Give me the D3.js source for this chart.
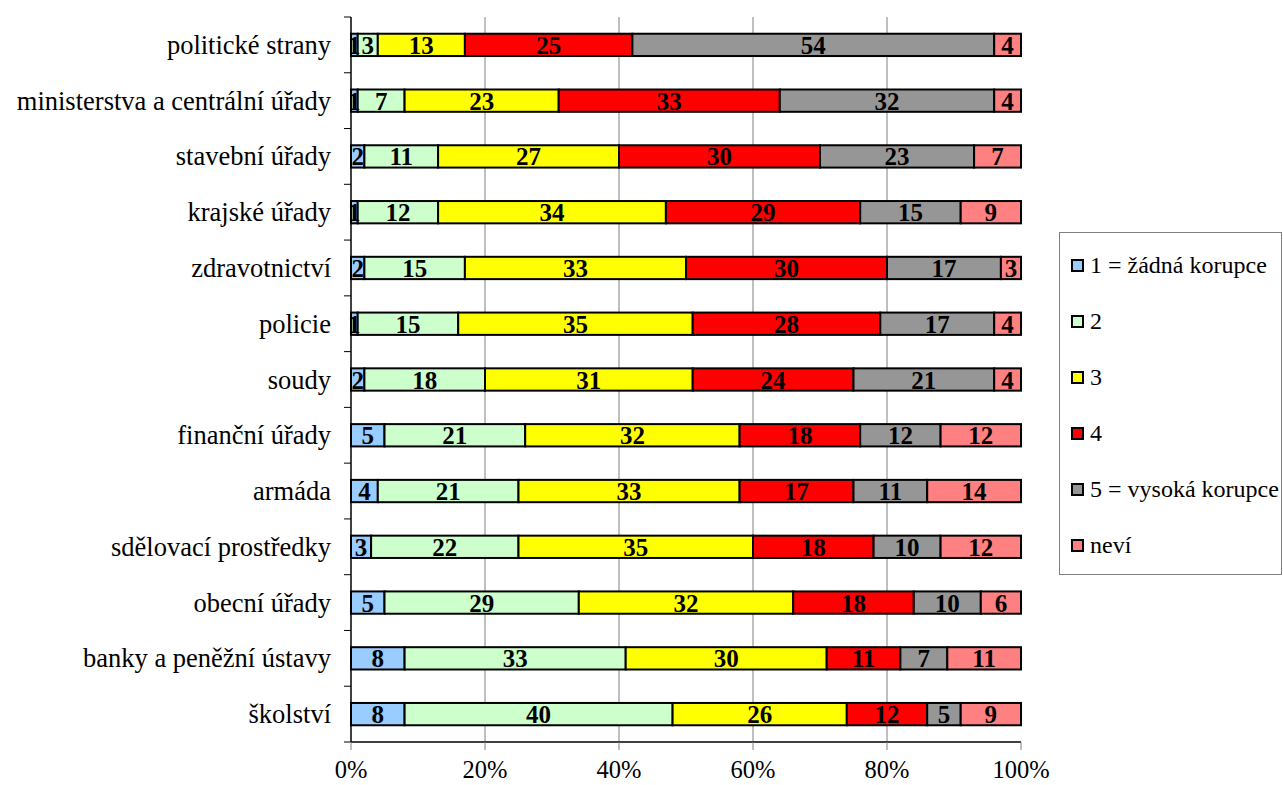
<!DOCTYPE html>
<html>
<head>
<meta charset="utf-8">
<script src="https://cdn.jsdelivr.net/npm/d3@7"></script>
<style>
  html, body { margin: 0; padding: 0; background: #fff; overflow: hidden; }
  svg { display: block; }
  text { font-family: "Liberation Serif", "Times New Roman", serif; }
</style>
</head>
<body>
<svg id="chart" width="1283" height="785"></svg>
<script>
// Institutions, top to bottom
const categories = [
  "politické strany",
  "ministerstva a centrální úřady",
  "stavební úřady",
  "krajské úřady",
  "zdravotnictví",
  "policie",
  "soudy",
  "finanční úřady",
  "armáda",
  "sdělovací prostředky",
  "obecní úřady",
  "banky a peněžní ústavy",
  "školství"
];

// Answer categories (legend order)
const seriesNames = ["1 = žádná korupce", "2", "3", "4", "5 = vysoká korupce", "neví"];
const seriesColors = ["#99CCFF", "#CCFFCC", "#FFFF00", "#FF0000", "#969696", "#FF8080"];

// Percent of respondents per answer, one array per answer, in category order
const s1    = [1, 1, 2, 1, 2, 1, 2, 5, 4, 3, 5, 8, 8];
const s2    = [3, 7, 11, 12, 15, 15, 18, 21, 21, 22, 29, 33, 40];
const s3    = [13, 23, 27, 34, 33, 35, 31, 32, 33, 35, 32, 30, 26];
const s4    = [25, 33, 30, 29, 30, 28, 24, 18, 17, 18, 18, 11, 12];
const s5    = [54, 32, 23, 15, 17, 17, 21, 12, 11, 10, 10, 7, 5];
const sNevi = [4, 4, 7, 9, 3, 4, 4, 12, 14, 12, 6, 11, 9];

const tickValues = [0, 0.2, 0.4, 0.6, 0.8, 1.0];

const seriesValues = [s1, s2, s3, s4, s5, sNevi];

const rows = categories.map((c, i) => {
  const r = { category: c };
  seriesNames.forEach((s, k) => { r[s] = seriesValues[k][i]; });
  return r;
});

const stacked = d3.stack()
  .keys(seriesNames)
  .offset(d3.stackOffsetExpand)(rows);

const svg = d3.select("#chart");
const plotLeft = 351, plotRight = 1021, plotTop = 17, plotBottom = 742;

const x = d3.scaleLinear().domain([0, 1]).range([plotLeft, plotRight]);
const y = d3.scaleBand().domain(categories).range([plotTop, plotBottom]).paddingInner(0.6).paddingOuter(0.3);
const yBand = d3.scaleBand().domain(categories).range([plotTop, plotBottom]).padding(0);

// vertical gridlines
svg.append("g")
  .selectAll("line")
  .data(tickValues.filter(v => v > 0 && v < 1))
  .join("line")
  .attr("x1", d => x(d)).attr("x2", d => x(d))
  .attr("y1", plotTop).attr("y2", plotBottom)
  .attr("stroke", "#808080").attr("stroke-width", 1);

// bars
const color = d3.scaleOrdinal().domain(seriesNames).range(seriesColors);
const layers = svg.append("g")
  .selectAll("g")
  .data(stacked)
  .join("g")
  .attr("fill", d => color(d.key));

layers.selectAll("rect")
  .data(d => d)
  .join("rect")
  .attr("x", d => x(d[0]))
  .attr("width", d => x(d[1]) - x(d[0]))
  .attr("y", d => y(d.data.category))
  .attr("height", y.bandwidth())
  .attr("stroke", "#000")
  .attr("stroke-width", 2);

// value labels
const labels = svg.append("g");
stacked.forEach(layer => {
  layer.forEach(d => {
    labels.append("text")
      .attr("x", (x(d[0]) + x(d[1])) / 2)
      .attr("y", y(d.data.category) + y.bandwidth() / 2 + 9)
      .attr("text-anchor", "middle")
      .attr("font-weight", "bold")
      .attr("font-size", 25)
      .attr("fill", "#000")
      .text(d.data[layer.key]);
  });
});

// y axis
const yAxisG = svg.append("g");
yAxisG.append("line")
  .attr("x1", plotLeft).attr("x2", plotLeft).attr("y1", plotTop).attr("y2", plotBottom)
  .attr("stroke", "#000").attr("stroke-width", 1.5);
const bandEdges = categories.map(c => yBand(c)).concat([plotBottom]);
yAxisG.selectAll("line.tick")
  .data(bandEdges)
  .join("line")
  .attr("class", "tick")
  .attr("x1", plotLeft - 7).attr("x2", plotLeft)
  .attr("y1", d => d).attr("y2", d => d)
  .attr("stroke", "#000").attr("stroke-width", 1);
yAxisG.selectAll("text")
  .data(categories)
  .join("text")
  .attr("x", 331)
  .attr("y", d => yBand(d) + yBand.bandwidth() / 2 + 9)
  .attr("text-anchor", "end")
  .attr("font-size", 26.5)
  .attr("fill", "#000")
  .text(d => d);

// x axis
const xAxisG = svg.append("g");
xAxisG.append("line")
  .attr("x1", plotLeft).attr("x2", plotRight).attr("y1", plotBottom).attr("y2", plotBottom)
  .attr("stroke", "#000").attr("stroke-width", 1.5);
xAxisG.selectAll("line.tick")
  .data(tickValues)
  .join("line")
  .attr("class", "tick")
  .attr("x1", d => x(d)).attr("x2", d => x(d))
  .attr("y1", plotBottom).attr("y2", plotBottom + 8)
  .attr("stroke", "#808080").attr("stroke-width", 1);
xAxisG.selectAll("text")
  .data(tickValues)
  .join("text")
  .attr("x", d => x(d))
  .attr("y", 778)
  .attr("text-anchor", "middle")
  .attr("font-size", 24.5)
  .attr("fill", "#000")
  .text(d => d3.format(".0%")(d));

// legend
const lg = svg.append("g");
lg.append("rect")
  .attr("x", 1059.5).attr("y", 232.5).attr("width", 222).attr("height", 342)
  .attr("fill", "#fff").attr("stroke", "#808080").attr("stroke-width", 1);
const legendY = d3.scalePoint().domain(seriesNames).range([265, 545]);
const items = lg.selectAll("g")
  .data(seriesNames)
  .join("g")
  .attr("transform", d => `translate(0,${legendY(d)})`);
items.append("rect")
  .attr("x", 1072).attr("y", -5).attr("width", 11).attr("height", 11)
  .attr("fill", d => color(d))
  .attr("stroke", "#000").attr("stroke-width", 2);
items.append("text")
  .attr("x", 1090).attr("y", 8)
  .attr("font-size", 24)
  .attr("fill", "#000")
  .text(d => d);
</script>
</body>
</html>
